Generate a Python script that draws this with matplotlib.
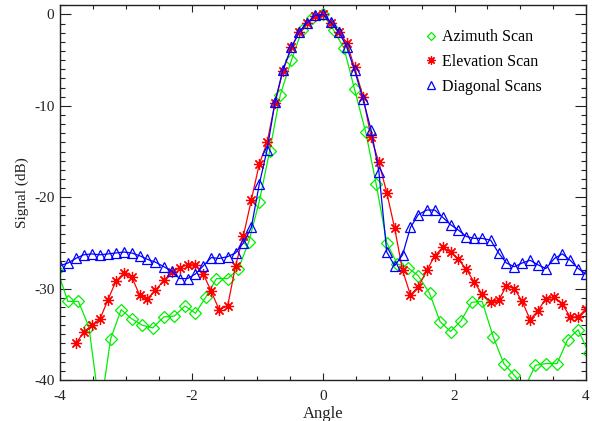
import matplotlib
matplotlib.use("Agg")
import matplotlib.pyplot as plt
from matplotlib.lines import Line2D
from matplotlib.ticker import MultipleLocator

plt.rcParams["font.family"] = ["Liberation Serif", "DejaVu Serif"]
plt.rcParams["axes.unicode_minus"] = False

# Azimuth scan (green diamonds), sampled every ~0.16
AZ_X = [-4.04, -3.88, -3.72, -3.56, -3.39, -3.23, -3.07, -2.91, -2.75, -2.59,
        -2.42, -2.26, -2.10, -1.94, -1.78, -1.62, -1.45, -1.29, -1.13, -0.97,
        -0.81, -0.65, -0.48, -0.32, -0.16, 0.00, 0.16, 0.32, 0.48, 0.65,
        0.81, 0.97, 1.13, 1.29, 1.45, 1.62, 1.78, 1.94, 2.10, 2.26,
        2.42, 2.59, 2.75, 2.91, 3.07, 3.23, 3.39, 3.56, 3.72, 3.88, 4.04]
AZ_Y = [-28.0, -31.4, -31.4, -34.2, -43.5, -35.5, -32.3, -33.3, -34.0, -34.3,
        -33.1, -33.0, -31.9, -32.7, -30.9, -28.9, -28.9, -27.9, -24.9, -20.5,
        -14.9, -8.8, -5.0, -1.7, -0.4, 0.0, -1.7, -3.7, -8.2, -12.9,
        -18.6, -25.0, -27.3, -27.7, -28.6, -30.5, -33.6, -34.7, -33.5, -31.5,
        -31.4, -35.3, -38.2, -39.5, -40.8, -38.4, -38.2, -38.2, -35.6, -34.5, -37.0]

# Elevation / diagonal scans, sampled every ~0.12
GRID_X = [-4.00, -3.88, -3.76, -3.64, -3.52, -3.39, -3.27, -3.15, -3.03, -2.91,
          -2.79, -2.67, -2.55, -2.42, -2.30, -2.18, -2.06, -1.94, -1.82, -1.70,
          -1.58, -1.45, -1.33, -1.21, -1.09, -0.97, -0.85, -0.73, -0.61, -0.48,
          -0.36, -0.24, -0.12, 0.00, 0.12, 0.24, 0.36, 0.48, 0.61, 0.73,
          0.85, 0.97, 1.09, 1.21, 1.33, 1.45, 1.58, 1.70, 1.82, 1.94,
          2.06, 2.18, 2.30, 2.42, 2.55, 2.67, 2.79, 2.91, 3.03, 3.15,
          3.27, 3.39, 3.52, 3.64, 3.76, 3.88, 4.00]

EL_X = GRID_X[2:]
EL_Y = [-36.0, -34.8, -34.0, -33.3, -31.2, -29.2, -28.3, -28.7,
        -30.7, -31.1, -30.2, -29.1, -28.2, -27.7, -27.4, -27.4, -28.4, -30.3,
        -32.3, -31.9, -27.5, -24.2, -20.3, -16.4, -14.0, -9.7, -6.2, -3.6,
        -1.9, -0.9, -0.2, 0.0, -0.9, -1.9, -3.1, -5.8, -9.0, -13.4,
        -16.2, -19.5, -23.4, -28.0, -30.7, -29.8, -28.0, -26.4, -25.5, -26.0,
        -26.8, -27.9, -29.3, -30.6, -31.5, -31.3, -29.7, -30.0, -31.4, -33.4,
        -32.4, -31.1, -30.9, -31.7, -33.1, -33.1, -32.2]

DG_X = GRID_X
DG_Y = [-27.5, -27.2, -26.7, -26.3, -26.2, -26.3, -26.2, -26.1, -26.0, -26.1,
        -26.4, -26.8, -27.1, -27.6, -28.1, -28.9, -28.9, -28.4, -27.5, -26.6,
        -26.7, -26.5, -26.1, -25.0, -23.3, -18.6, -14.8, -9.6, -6.05, -3.6,
        -1.9, -0.9, -0.1, 0.0, -0.85, -1.9, -3.55, -6.1, -9.3, -12.6,
        -17.2, -26.0, -27.5, -26.3, -23.3, -21.9, -21.4, -21.4, -22.2, -23.0,
        -23.6, -24.3, -24.5, -24.5, -24.7, -26.1, -27.2, -27.6, -27.2, -26.9,
        -27.4, -27.8, -26.7, -26.2, -26.9, -27.8, -28.4]

SERIES = [
    ("Azimuth Scan", AZ_X, AZ_Y, "#00ee00", "D", 6.0),
    ("Elevation Scan", EL_X, EL_Y, "#ff0000", (8, 2, 0), 8.0),
    ("Diagonal Scans", DG_X, DG_Y, "#0000ff", "^", 7.5),
]

fig = plt.figure(figsize=(5.92, 4.21), dpi=100)
ax = fig.add_axes([60 / 592, 1 - 380 / 421, 526 / 592, 374.7 / 421])

handles = []
for name, xs, ys, color, marker, ms in SERIES:
    ax.plot(xs, ys, color=color, linewidth=0.9, marker=marker, markersize=ms,
            markerfacecolor="none", markeredgecolor=color, markeredgewidth=0.9,
            clip_on=True)
    handles.append(Line2D([], [], linestyle="none", marker=marker, color=color,
                          markerfacecolor="none", markeredgewidth=0.9,
                          markersize=ms * 0.75, label=name))

ax.set_xlim(-4, 4)
ax.set_ylim(-40, 1)
ax.xaxis.set_major_locator(MultipleLocator(2))
ax.xaxis.set_minor_locator(MultipleLocator(0.5))
ax.yaxis.set_major_locator(MultipleLocator(10))
ax.yaxis.set_minor_locator(MultipleLocator(1))
ax.tick_params(axis="both", which="both", direction="in", top=True, right=True,
               labelsize=11, width=0.8, colors="#222222")
ax.tick_params(axis="x", which="major", length=5.3, pad=7.5)
ax.tick_params(axis="x", which="minor", length=2.6)
ax.tick_params(axis="y", which="major", length=7.6, pad=4)
ax.tick_params(axis="y", which="minor", length=3.8)
for sp in ax.spines.values():
    sp.set_linewidth(1.0)
    sp.set_color("#222222")

ax.set_xlabel("Angle", fontsize=12, labelpad=1.5, color="#222222")
ax.set_ylabel("Signal (dB)", fontsize=11, labelpad=4, color="#222222")

ax.legend(handles=handles, loc="upper left", bbox_to_anchor=(0.692, 0.936),
          frameon=False, fontsize=11.5, handlelength=0.9, handletextpad=0.25,
          labelspacing=0.55, borderpad=0, borderaxespad=0)

fig.savefig("out.png", dpi=100)
